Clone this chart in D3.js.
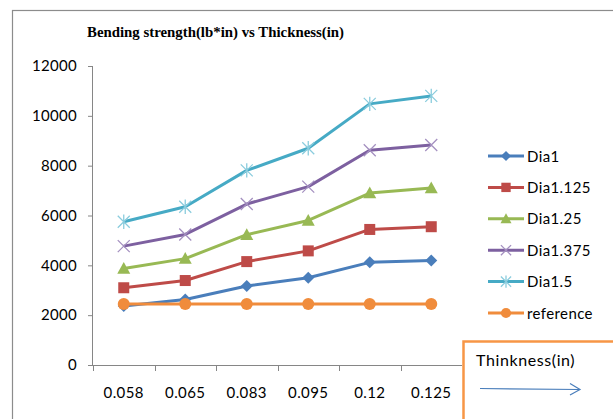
<!DOCTYPE html>
<html><head><meta charset="utf-8">
<script src="https://cdn.jsdelivr.net/npm/d3@7"></script>
<style>body{margin:0;background:#fff}svg{display:block}</style>
</head><body><svg id="c" width="613" height="419"></svg>
<script>
const categories = ["0.058","0.065","0.083","0.095","0.12","0.125"];
const seriesNames = ["Dia1","Dia1.125","Dia1.25","Dia1.375","Dia1.5","reference"];
const dia1 = [2370, 2630, 3170, 3500, 4120, 4190];
const dia1125 = [3100, 3390, 4150, 4580, 5440, 5550];
const dia125 = [3870, 4270, 5230, 5800, 6900, 7100];
const dia1375 = [4770, 5240, 6460, 7160, 8620, 8830];
const dia15 = [5750, 6350, 7810, 8700, 10480, 10800];
const reference = [2450, 2450, 2450, 2450, 2450, 2450];
const yTicks = [0,2000,4000,6000,8000,10000,12000];
const title = "Bending strength(lb*in) vs Thickness(in)";
const boxLabel = "Thinkness(in)";

const seriesValues = [dia1, dia1125, dia125, dia1375, dia15, reference];
const colors = ["#4A7EBB","#BE4B48","#98B954","#7D60A0","#46AAC5","#F08C3C"];
const markerColors = ["#4A7EBB","#BE4B48","#98B954","#A490C0","#8ACCDD","#F08C3C"];
const markers = ["diamond","square","triangle","x","star","circle"];

const svg = d3.select("#c");
const font = "Lato, 'Open Sans', sans-serif";

// outer chart border
svg.append("rect").attr("x",12.5).attr("y",10.5).attr("width",700).attr("height",500)
  .attr("fill","none").attr("stroke","#8c8c8c").attr("stroke-width",1.2);

svg.append("text").attr("x",87).attr("y",37).text(title)
  .attr("font-family","'Liberation Serif', serif").attr("font-weight","bold")
  .attr("font-size",15.5).attr("textLength",257).attr("lengthAdjust","spacingAndGlyphs").attr("fill","#000");

const x = d3.scaleBand().domain(categories).range([93,462]);
const y = d3.scaleLinear().domain([0,12000]).range([365,66]);

// y axis
const yAxis = svg.append("g").attr("transform","translate(93,0)")
  .call(d3.axisLeft(y).tickValues(yTicks).tickSize(5).tickPadding(11).tickFormat(d3.format("d")));
yAxis.select(".domain").attr("stroke","#868686").attr("d","M-0.5,66V365.5");
yAxis.selectAll(".tick line").attr("stroke","#868686");
yAxis.selectAll("text").attr("font-family",font).attr("font-size",15).attr("letter-spacing",0.3).attr("fill","#000");

// x axis
const xAxis = svg.append("g").attr("transform","translate(0,365)");
xAxis.append("line").attr("x1",88).attr("x2",462).attr("y1",0.5).attr("y2",0.5).attr("stroke","#868686");
const bounds = categories.map(c=>x(c));
xAxis.selectAll("line.t").data(bounds).join("line").attr("class","t")
  .attr("x1",d=>Math.round(d)+0.5).attr("x2",d=>Math.round(d)+0.5).attr("y1",0).attr("y2",6).attr("stroke","#868686");
xAxis.selectAll("text").data(categories).join("text")
  .attr("x",d=>x(d)+x.bandwidth()/2).attr("y",33).attr("text-anchor","middle")
  .attr("font-family",font).attr("font-size",15).attr("letter-spacing",0.4).attr("fill","#000").text(d=>d);

function drawMarker(g, type, cx, cy, col, s) {
  s = s || 1;
  if (type==="diamond") {
    const r=6*s;
    g.append("path").attr("d",`M${cx},${cy-r}L${cx+r},${cy}L${cx},${cy+r}L${cx-r},${cy}Z`).attr("fill",col);
  } else if (type==="square") {
    const r=5.5*s;
    g.append("rect").attr("x",cx-r).attr("y",cy-r).attr("width",2*r).attr("height",2*r).attr("fill",col);
  } else if (type==="triangle") {
    const r=6.5*s;
    g.append("path").attr("d",`M${cx},${cy-r}L${cx+r},${cy+r*0.8}L${cx-r},${cy+r*0.8}Z`).attr("fill",col);
  } else if (type==="x") {
    const r=6*s;
    g.append("path").attr("d",`M${cx-r},${cy-r}L${cx+r},${cy+r}M${cx+r},${cy-r}L${cx-r},${cy+r}`).attr("stroke",col).attr("stroke-width",1.3);
  } else if (type==="star") {
    const r=6*s;
    g.append("path").attr("d",`M${cx-r},${cy-r}L${cx+r},${cy+r}M${cx+r},${cy-r}L${cx-r},${cy+r}M${cx},${cy-r*1.2}L${cx},${cy+r*1.2}`).attr("stroke",col).attr("stroke-width",1.3);
  } else if (type==="circle") {
    g.append("circle").attr("cx",cx).attr("cy",cy).attr("r",6*s).attr("fill",col);
  }
}

const line = d3.line().x((d,i)=>x(categories[i])+x.bandwidth()/2).y(d=>y(d));
const plot = svg.append("g");
seriesValues.forEach((vals,si)=>{
  const g = plot.append("g");
  g.append("path").datum(vals).attr("d",line).attr("fill","none")
    .attr("stroke",colors[si]).attr("stroke-width",3).attr("stroke-linejoin","round");
  vals.forEach((v,i)=>drawMarker(g, markers[si], x(categories[i])+x.bandwidth()/2, y(v), markerColors[si]));
});

// legend
const leg = svg.append("g");
seriesNames.forEach((n,i)=>{
  const yy = 156 + i*31.4;
  leg.append("line").attr("x1",488).attr("x2",524).attr("y1",yy).attr("y2",yy).attr("stroke",colors[i]).attr("stroke-width",3);
  drawMarker(leg, markers[i], 506, yy, markerColors[i], 0.85);
  leg.append("text").attr("x",527).attr("y",yy+5.5).text(n)
    .attr("font-family",font).attr("font-size",15).attr("letter-spacing",0.4).attr("fill","#000");
});

// bottom-right text box
const bx = svg.append("g");
bx.append("rect").attr("x",463.5).attr("y",341.5).attr("width",200).attr("height",120)
  .attr("fill","#fff").attr("stroke","#F79646").attr("stroke-width",2.5);
bx.append("text").attr("x",476).attr("y",366).text(boxLabel)
  .attr("font-family",font).attr("font-size",16).attr("letter-spacing",0.6).attr("fill","#000");
bx.append("line").attr("x1",480).attr("x2",579).attr("y1",388.5).attr("y2",389.5).attr("stroke","#4A7EBB").attr("stroke-width",1.2);
bx.append("path").attr("d","M570,383.5L580,389.5L570,395").attr("fill","none").attr("stroke","#4A7EBB").attr("stroke-width",1.2);
</script></body></html>
